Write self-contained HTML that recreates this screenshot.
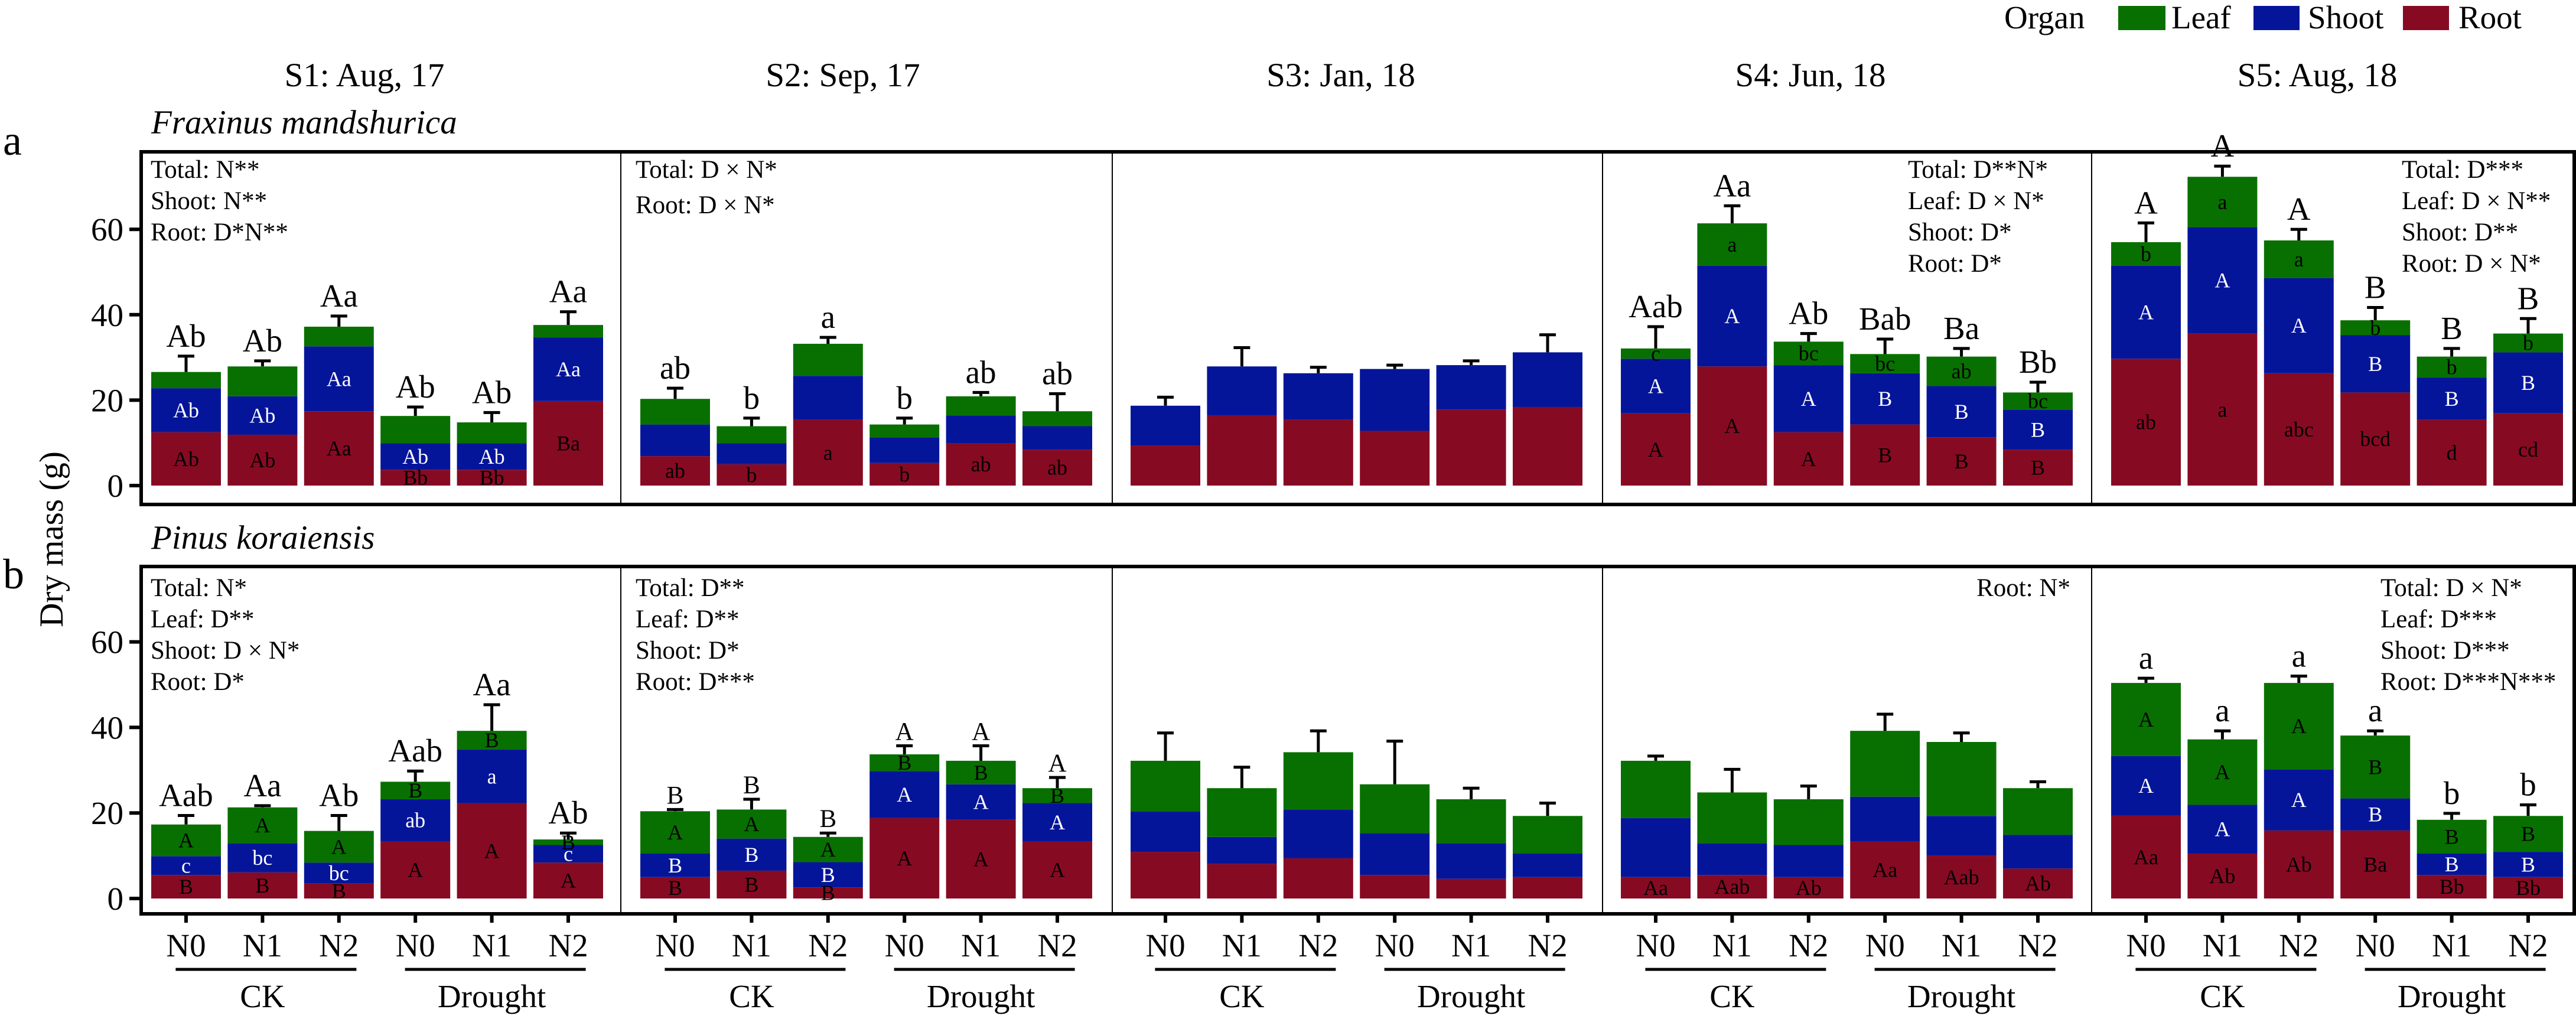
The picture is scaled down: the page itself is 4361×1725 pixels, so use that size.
<!DOCTYPE html>
<html><head><meta charset="utf-8"><style>
html,body{margin:0;padding:0;background:#fff}
svg{display:block}
svg text{font-family:"Liberation Serif","DejaVu Serif","Times New Roman",serif !important;fill:#000}
</style></head><body>
<svg id="chart" width="4361" height="1725" viewBox="0 0 4361 1725" xmlns="http://www.w3.org/2000/svg" font-family="Liberation Serif, DejaVu Serif, serif">
<g>
<text x="3393" y="48" font-size="55">Organ</text>
<rect x="3586" y="10" width="80" height="41" fill="#087000"/>
<text x="3676" y="48" font-size="55">Leaf</text>
<rect x="3815" y="10" width="78" height="41" fill="#05159a"/>
<text x="3907" y="48" font-size="55">Shoot</text>
<rect x="4068" y="10" width="78" height="41" fill="#870a23"/>
<text x="4162" y="48" font-size="55">Root</text>
</g>
<text x="5" y="262" font-size="72">a</text>
<text x="5" y="996" font-size="72">b</text>
<text x="256" y="226" font-size="57" font-style="italic">Fraxinus mandshurica</text>
<text x="256" y="929" font-size="57" font-style="italic">Pinus koraiensis</text>
<text transform="translate(106,913) rotate(-90)" text-anchor="middle" font-size="57">Dry mass (g)</text>
</svg>
<script>
// ---- data ----
const facets = ["S1: Aug, 17","S2: Sep, 17","S3: Jan, 18","S4: Jun, 18","S5: Aug, 18"];
const nLevels = ["N0","N1","N2","N0","N1","N2"];
const groups = ["CK","Drought"];
const yTicks = [0,20,40,60];
// Fraxinus (panel a): cumulative tops
const rootA = [12.5,11.9,17.4,3.7,3.7,19.8, 6.9,5.0,15.4,5.3,9.9,8.4, 9.4,16.4,15.4,12.8,17.8,18.4, 16.9,27.9,12.5,14.3,11.3,8.4, 29.7,35.6,26.3,21.8,15.4,16.9];
const shootTopA = [22.8,20.9,32.6,9.9,9.9,34.7, 14.3,9.9,25.7,11.3,16.4,13.9, 18.7,27.9,26.3,27.3,28.2,31.2, 29.7,51.5,28.2,26.3,23.3,17.8, 51.5,60.5,48.6,35.2,25.3,31.2];
const totalA = [26.6,27.9,37.2,16.3,14.8,37.6, 20.3,13.9,33.2,14.3,20.9,17.4, 18.7,27.9,26.3,27.3,28.2,31.2, 32.1,61.4,33.7,30.8,30.2,21.8, 57.0,72.3,57.4,38.7,30.2,35.6];
const errA = [30.3,29.2,39.7,18.4,17.1,40.7, 22.8,15.8,34.7,15.8,21.8,21.5, 20.7,32.3,27.7,28.2,29.2,35.3, 37.2,65.5,35.6,34.3,32.1,24.2, 61.5,74.8,60.0,41.7,32.1,39.1];
// Pinus (panel b)
const rootB = [5.5,6.1,3.5,13.4,22.3,8.4, 5.0,6.5,2.6,18.8,18.4,13.4, 10.9,8.1,9.4,5.5,4.6,5.0, 5.0,5.5,5.0,13.4,10.0,7.0, 19.4,10.5,15.9,15.9,5.5,5.0];
const shootTopB = [9.9,12.9,8.4,23.2,34.8,12.5, 10.5,14.0,8.5,29.8,26.7,22.3, 20.4,14.4,20.8,15.3,12.9,10.5, 18.8,12.9,12.5,23.8,19.3,14.9, 33.3,21.9,30.2,23.4,10.5,10.9];
const totalB = [17.3,21.3,15.8,27.3,39.2,13.8, 20.4,20.8,14.4,33.7,32.2,25.8, 32.2,25.8,34.2,26.7,23.2,19.3, 32.2,24.8,23.2,39.2,36.6,25.8, 50.4,37.2,50.4,38.1,18.4,19.3];
const errB = [19.4,21.7,19.4,29.8,45.3,15.3, 20.8,23.2,15.3,35.7,35.7,28.3, 38.7,30.7,39.2,36.8,25.8,22.3, 33.3,30.2,26.3,43.1,38.7,27.3, 51.5,39.2,52.0,39.2,19.9,21.9];
const _ = "";
const topLabA = ["Ab","Ab","Aa","Ab","Ab","Aa", "ab","b","a","b","ab","ab", _,_,_,_,_,_, "Aab","Aa","Ab","Bab","Ba","Bb", "A","A","A","B","B","B"];
const leafLabA = [_,_,_,_,_,_, _,_,_,_,_,_, _,_,_,_,_,_, "c","a","bc","bc","ab","bc", "b","a","a","b","b","b"];
const shootLabA = ["Ab","Ab","Aa","Ab","Ab","Aa", _,_,_,_,_,_, _,_,_,_,_,_, "A","A","A","B","B","B", "A","A","A","B","B","B"];
const rootLabA = ["Ab","Ab","Aa","Bb","Bb","Ba", "ab","b","a","b","ab","ab", _,_,_,_,_,_, "A","A","A","B","B","B", "ab","a","abc","bcd","d","cd"];
const topLabB = ["Aab","Aa","Ab","Aab","Aa","Ab", "B","B","B","A","A","A", _,_,_,_,_,_, _,_,_,_,_,_, "a","a","a","a","b","b"];
const leafLabB = ["A","A","A","B","B","B", "A","A","A","B","B","B", _,_,_,_,_,_, _,_,_,_,_,_, "A","A","A","B","B","B"];
const shootLabB = ["c","bc","bc","ab","a","c", "B","B","B","A","A","A", _,_,_,_,_,_, _,_,_,_,_,_, "A","A","A","B","B","B"];
const rootLabB = ["B","B","B","A","A","A", "B","B","B","A","A","A", _,_,_,_,_,_, "Aa","Aab","Ab","Aa","Aab","Ab", "Aa","Ab","Ab","Ba","Bb","Bb"];
const statsA = [["Total: N**","Shoot: N**","Root: D*N**"],["Total: D × N*","Root: D × N*"],[],["Total: D**N*","Leaf: D × N*","Shoot: D*","Root: D*"],["Total: D***","Leaf: D × N**","Shoot: D**","Root: D × N*"]];
const statsB = [["Total: N*","Leaf: D**","Shoot: D × N*","Root: D*"],["Total: D**","Leaf: D**","Shoot: D*","Root: D***"],[],["Root: N*"],["Total: D × N*","Leaf: D***","Shoot: D***","Root: D***N***"]];

// ---- layout ----
const svg = document.getElementById("chart");
const NS = "http://www.w3.org/2000/svg";
const FONT = "Liberation Serif, DejaVu Serif, serif";
const edges = [239,1051,1883,2713,3541,4358];
const firstC = [315,1143,1973,2803,3633];
const titleC = [617,1427,2270,3065,3923];
const step = 129.4, barW = 118;
const C = {leaf:"#087000", shoot:"#05159a", root:"#870a23"};
const panels = [
  {key:"a", top:257, bottom:854, y0:822, k:7.23, root:rootA, shoot:shootTopA, total:totalA, err:errA, tl:topLabA, ll:leafLabA, sl:shootLabA, rl:rootLabA, stats:statsA},
  {key:"b", top:959, bottom:1547, y0:1521, k:7.24, root:rootB, shoot:shootTopB, total:totalB, err:errB, tl:topLabB, ll:leafLabB, sl:shootLabB, rl:rootLabB, stats:statsB}
];
function mk(tag, attrs, parent){const e=document.createElementNS(NS,tag);for(const a in attrs)e.setAttribute(a,attrs[a]);if(tag==="text")e.setAttribute("font-family",FONT);(parent||svg).appendChild(e);return e;}
function xPos(f,i){return firstC[f]+i*step;}

facets.forEach((t,f)=>{
  const e=mk("text",{x:titleC[f],y:146,"font-size":57,"text-anchor":"middle"});
  e.textContent=t;
  
  
});

panels.forEach(p=>{
  const Y=v=>p.y0-v*p.k;
  const g=mk("g",{});
  
  
  yTicks.forEach(v=>{
    const ln=mk("line",{x1:219,x2:239,y1:Y(v),y2:Y(v),stroke:"#000","stroke-width":6},g);
    
    
    const tx=mk("text",{x:209,y:Y(v)+19,"font-size":55,"text-anchor":"end"},g);
    tx.textContent=v;
    
    
  });
  for(let f=0;f<5;f++){
    for(let i=0;i<6;i++){
      const j=f*6+i, x=xPos(f,i);
      const r=p.root[j], s=p.shoot[j], t=p.total[j], er=p.err[j];
      const eb=mk("path",{d:`M${x},${Y(t)}V${Y(er)}M${x-14},${Y(er)}H${x+14}`,stroke:"#000","stroke-width":5,fill:"none"},g);
      
      
      const segs=[["root",0,r],["shoot",r,s],["leaf",s,t]];
      segs.forEach(sg=>{
        if(sg[2]-sg[1]<=0) return;
        const rc=mk("rect",{x:x-barW/2,y:Y(sg[2]),width:barW,height:Y(sg[1])-Y(sg[2]),fill:C[sg[0]]},g);
        
        
      });
      const inLab=[[p.rl[j],0,r,"#000"],[p.sl[j],r,s,"#fff"],[p.ll[j],s,t,"#000"]];
      inLab.forEach(L=>{
        if(!L[0])return;
        const tx=mk("text",{x:x,y:Y((L[1]+L[2])/2)+12,"font-size":36,"text-anchor":"middle",fill:L[3],style:"fill:"+L[3]},g);
        tx.textContent=L[0];
        
        
      });
      if(p.tl[j]){
        const small=(p.key==="b"&&f===1);
        const tx=mk("text",{x:x,y:Y(er)-(small?10:16),"font-size":small?43:55,"text-anchor":"middle"},g);
        tx.textContent=p.tl[j];
        
        
      }
    }
    const st=p.stats[f];
    st.forEach((s,k)=>{
      let x;
      if(f===0){x=edges[0]+16;}else if(f===1){x=edges[1]+25;}
      else if(f===3){x= st.length===1? edges[4]-36 : 3230;}
      else {x= p.key==="a"?4066:4030;}
      const y=p.top+(p.key==="a"?44:50)+k*(f===1&&p.key==="a"?60:53);
      const tx=mk("text",{x:x,y:y,"font-size":43,"text-anchor":(f===3&&st.length===1)?"end":"start"},g);
      tx.textContent=s;
      
      
    });
    if(f>0){
      const sep=mk("line",{x1:edges[f],x2:edges[f],y1:p.top,y2:p.bottom,stroke:"#000","stroke-width":2},g);
      
      
    }
  }
  const box=mk("rect",{x:edges[0],y:p.top,width:edges[5]-edges[0],height:p.bottom-p.top,fill:"none",stroke:"#000","stroke-width":6},g);
  
  
});

for(let f=0;f<5;f++){
  for(let i=0;i<6;i++){
    const x=xPos(f,i);
    const tk=mk("line",{x1:x,x2:x,y1:1547,y2:1562,stroke:"#000","stroke-width":6});
    
    
    const tx=mk("text",{x:x,y:1619,"font-size":55,"text-anchor":"middle"});
    tx.textContent=nLevels[i];
    
    
  }
  groups.forEach((gname,gi)=>{
    const cx=xPos(f,gi*3+1)+6;
    const ul=mk("line",{x1:cx-153,x2:cx+153,y1:1641,y2:1641,stroke:"#000","stroke-width":5});
    
    
    const tx=mk("text",{x:cx-6,y:1705,"font-size":55,"text-anchor":"middle"});
    tx.textContent=gname;
    
    
  });
}
</script>
</body></html>
